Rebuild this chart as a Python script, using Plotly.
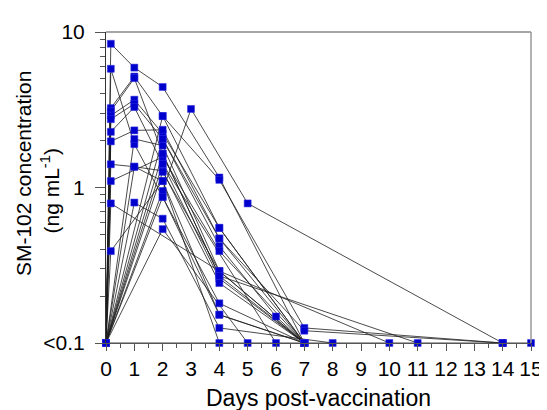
import plotly.graph_objects as go

DAYS = [0, 0.17, 1, 2, 3, 4, 5, 6, 7, 8, 10, 11, 14, 15]
N = None
# concentration per subject (ng/mL); values below LLOQ plotted at 0.1 ("<0.1")
S01 = [0.1, 8.4, 5.9, 4.43, N, 1.16, N, N, 0.1, N, N, N, N, N]
S02 = [0.1, 5.8, 1.9, 0.87, N, 0.18, N, N, 0.1, N, N, N, N, N]
S03 = [0.1, 3.24, 5.17, 2.88, N, 1.12, N, N, 0.125, N, N, N, 0.1, N]
S04 = [0.1, 3.1, 5.05, 1.65, N, 0.27, N, N, 0.1, N, N, N, N, N]
S05 = [0.1, 2.9, 3.67, 2.22, N, 0.55, N, N, 0.1, N, N, N, N, N]
S06 = [0.1, 2.75, 3.45, 2.05, N, 0.42, N, 0.148, 0.1, N, N, N, N, N]
S07 = [0.1, 2.28, 3.29, 1.42, N, 0.26, N, N, 0.1, N, N, N, N, N]
S08 = [0.1, 1.98, 2.33, 2.35, N, 0.47, N, N, 0.12, N, N, N, 0.1, N]
S09 = [0.1, 1.41, 1.36, 1.28, N, 0.243, N, N, 0.1, N, N, N, N, N]
S10 = [0.1, 1.1, N, 1.57, N, 0.39, N, N, 0.1, N, N, N, N, N]
S11 = [0.1, 0.79, N, N, N, 0.29, N, N, 0.1, N, N, N, N, N]
S12 = [0.1, 0.39, N, 1.1, N, 0.152, N, N, 0.1, N, N, N, N, N]
S13 = [0.1, N, 2.05, 1.86, N, 0.29, N, N, 0.1, N, N, N, N, N]
S14 = [0.1, N, 0.80, 0.63, N, 0.125, N, N, N, 0.1, N, N, N, N]
S15 = [0.1, N, 1.36, 1.1, N, 0.1, N, N, N, N, N, N, N, N]
S16 = [0.1, N, N, 0.95, 3.2, N, 0.79, N, N, N, N, N, 0.1, N]
S17 = [0.1, N, N, 0.54, N, N, 0.1, N, N, N, N, N, N, N]
S18 = [0.1, N, N, 1.42, N, N, N, 0.1, N, N, N, N, N, N]
S19 = [0.1, N, N, 1.26, N, 0.29, N, N, N, N, 0.1, N, N, N]
S20 = [0.1, N, N, 2.05, N, 0.47, N, N, 0.1, N, N, N, N, N]
S21 = [0.1, N, N, 1.65, N, 0.27, N, N, N, N, N, 0.1, N, N]
S22 = [0.1, N, N, 0.87, N, 0.152, N, N, 0.1, N, N, N, N, N]
S23 = [0.1, N, N, 2.88, N, 0.55, N, N, 0.1, N, N, N, N, N]
S24 = [0.1, N, N, N, N, N, N, N, N, N, N, N, 0.1, 0.1]

SUBJECTS = [S01, S02, S03, S04, S05, S06, S07, S08, S09, S10, S11, S12,
            S13, S14, S15, S16, S17, S18, S19, S20, S21, S22, S23, S24]

X_TICKS = list(range(0, 16))
Y_TICKVALS = [0.1, 1, 10]
Y_TICKTEXT = ["<0.1", "1", "10"]
Y_MINOR = [0.2, 0.3, 0.4, 0.5, 0.6, 0.7, 0.8, 0.9, 2, 3, 4, 5, 6, 7, 8, 9]
X_MINOR = [i + 0.5 for i in range(15)]

FONT = "Arial, Liberation Sans, sans-serif"

fig = go.Figure()
for s in SUBJECTS:
    fig.add_trace(go.Scatter(x=DAYS, y=s, mode="lines", connectgaps=True,
                             line=dict(color="rgba(30,30,30,0.8)", width=1),
                             hoverinfo="skip", showlegend=False, cliponaxis=False))
for s in SUBJECTS:
    fig.add_trace(go.Scatter(x=DAYS, y=s, mode="markers",
                             marker=dict(symbol="square", size=7, color="#0000CC",
                                         line=dict(color="#3030E0", width=0.5)),
                             showlegend=False, cliponaxis=False))

fig.update_layout(
    width=547, height=410,
    margin=dict(l=98, r=13, t=17, b=70),
    paper_bgcolor="white", plot_bgcolor="white",
    font=dict(family=FONT, color="black"),
    xaxis=dict(range=[0, 15], tickvals=X_TICKS, ticks="outside", ticklen=7,
               tickcolor="#555", tickfont=dict(size=21), showgrid=False,
               zeroline=False, showline=True, linecolor="#555", linewidth=1,
               mirror=False,
               minor=dict(tickvals=X_MINOR, ticks="outside", ticklen=4, tickcolor="#555"),
               title=dict(text="Days post-vaccination", font=dict(size=23), standoff=10)),
    yaxis=dict(type="log", range=[-1, 1], tickvals=Y_TICKVALS, ticktext=Y_TICKTEXT,
               ticks="outside", ticklen=10, tickcolor="#555", tickfont=dict(size=21),
               ticklabelstandoff=6,
               showgrid=False, zeroline=False, showline=True, linecolor="#333",
               linewidth=1,
               minor=dict(tickvals=Y_MINOR, ticks="outside", ticklen=5, tickcolor="#555")),
    shapes=[
        dict(type="line", xref="paper", yref="paper", x0=0, x1=1, y0=1, y1=1,
             line=dict(color="#888", width=1.5)),
        dict(type="line", xref="paper", yref="paper", x0=1, x1=1, y0=0, y1=1,
             line=dict(color="#999", width=1.5)),
    ],
    annotations=[
        dict(text="SM-102 concentration", xref="paper", yref="paper",
             x=-0.194, y=0.545, textangle=-90, showarrow=False,
             font=dict(size=21), xanchor="center", yanchor="middle"),
        dict(text="(ng mL<sup>-1</sup>)", xref="paper", yref="paper",
             x=-0.132, y=0.49, textangle=-90, showarrow=False,
             font=dict(size=21), xanchor="center", yanchor="middle"),
    ],
)

fig.write_html("out.html")
